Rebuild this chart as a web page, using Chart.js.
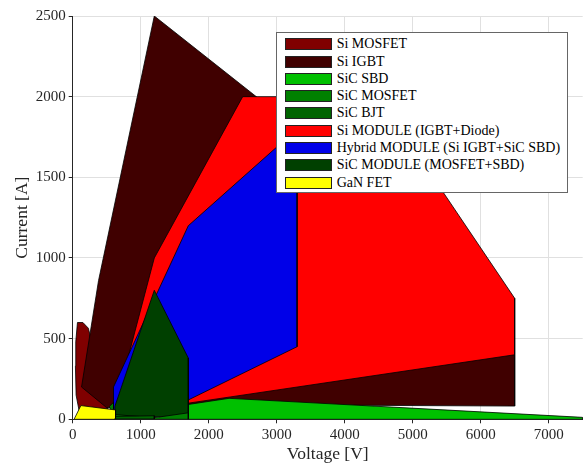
<!DOCTYPE html>
<html>
<head>
<meta charset="utf-8">
<script src="https://cdn.jsdelivr.net/npm/chart.js@4.4.0/dist/chart.umd.min.js"></script>
<style>
  body { margin: 0; background: #fff; }
  #wrap { position: relative; width: 586px; height: 465px; }
  #legend {
    position: absolute; left: 276px; top: 32px; width: 292px; height: 161px;
    box-sizing: border-box; border: 1px solid #666; background: #fff;
    padding-top: 2.6px;
    font-family: 'Liberation Serif', 'Times New Roman', serif; font-size: 14px; color: #000;
  }
  .row { display: flex; align-items: center; height: 17.3px; white-space: nowrap; }
  .sw { width: 45px; height: 10px; border: 1px solid #222; margin-left: 8px; margin-right: 4.7px; }
</style>
</head>
<body>
<div id="wrap">
  <canvas id="soa"></canvas>
  <div id="legend"></div>
</div>
<script>
// device names and fill colours (legend order)
const names = ["Si MOSFET", "Si IGBT", "SiC SBD", "SiC MOSFET", "SiC BJT",
  "Si MODULE (IGBT+Diode)", "Hybrid MODULE (Si IGBT+SiC SBD)", "SiC MODULE (MOSFET+SBD)", "GaN FET"];
const colors = ["#800000", "#400000", "#00c000", "#008000", "#006400",
  "#ff0000", "#0000e8", "#004000", "#ffff00"];

// polygon outlines, voltage [V] / current [A]
const siMosfetV = [70, 150, 230, 520, 100, 50, 40, 45];
const siMosfetI = [600, 600, 565, 65, 40, 150, 330, 480];

const siIgbtV = [1200, 3450, 6500, 6500, 1700, 600, 500, 130, 380];
const siIgbtI = [2500, 1750, 400, 82, 92, 75, 72, 200, 860];

const sicSbdV = [1700, 1700, 2300, 7500, 7500];
const sicSbdI = [0, 92, 130, 12, 0];

const sicMosfetV = [540, 600, 600, 1200, 1700, 1700, 600];
const sicMosfetI = [80, 105, 30, 10, 40, 0, 0];

const sicBjtV = [620, 620, 1200, 1200];
const sicBjtI = [2, 18, 22, 2];

const siModuleV = [2500, 4500, 6500, 6500, 1700, 700, 1200];
const siModuleI = [2000, 2000, 750, 400, 100, 200, 1000];

const hybridV = [1700, 3300, 3300, 1700, 600, 600];
const hybridI = [1200, 1800, 450, 120, 60, 200];

const sicModuleV = [1200, 1700, 1700, 1200, 620, 620];
const sicModuleI = [800, 380, 20, 15, 16, 80];

const ganV = [20, 120, 630, 630, 600];
const ganI = [0, 85, 58, 4, 0];

const xTicks = [0, 1000, 2000, 3000, 4000, 5000, 6000, 7000];
const yTicks = [0, 500, 1000, 1500, 2000, 2500];

const shapes = [
  [siMosfetV, siMosfetI], [siIgbtV, siIgbtI], [sicSbdV, sicSbdI],
  [sicMosfetV, sicMosfetI], [sicBjtV, sicBjtI], [siModuleV, siModuleI],
  [hybridV, hybridI], [sicModuleV, sicModuleI], [ganV, ganI]
];
// stacking: first entry is painted first (bottom)
const paintOrder = ["Si MOSFET", "Si IGBT", "SiC SBD", "Si MODULE (IGBT+Diode)",
  "Hybrid MODULE (Si IGBT+SiC SBD)", "SiC MODULE (MOSFET+SBD)", "SiC MOSFET", "SiC BJT", "GaN FET"];

const datasets = names.map((name, k) => {
  const [vs, is] = shapes[k];
  const pts = vs.map((v, i) => ({x: v, y: is[i]}));
  pts.push(pts[0]);
  return {
    label: name,
    data: pts,
    showLine: true,
    fill: 'shape',
    backgroundColor: colors[k],
    borderColor: '#000',
    borderWidth: 0.8,
    pointRadius: 0,
    tension: 0,
    order: paintOrder.length - paintOrder.indexOf(name)
  };
});

const serif = "'Liberation Serif', 'Times New Roman', serif";
Chart.defaults.font.family = serif;

new Chart(document.getElementById("soa"), {
  type: 'scatter',
  data: { datasets: datasets },
  options: {
    responsive: true,
    maintainAspectRatio: false,
    animation: false,
    events: [],
    layout: { padding: { left: 0, right: 3.3, top: 16, bottom: 0 } },
    plugins: { legend: { display: false }, tooltip: { enabled: false } },
    scales: {
      x: {
        type: 'linear', min: 0, max: 7500,
        afterBuildTicks: s => { s.ticks = xTicks.map(v => ({value: v})); },
        afterFit: s => { s.height = 45.7; },
        grid: { color: '#e0e0e0', tickColor: '#262626', tickLength: 4 },
        border: { color: '#262626', width: 1 },
        ticks: { font: { family: serif, size: 15 }, color: '#262626', maxRotation: 0, callback: v => String(v) },
        title: { display: true, text: 'Voltage [V]', font: { family: serif, size: 17.5 }, color: '#262626', padding: { top: 0, bottom: 0 } }
      },
      y: {
        type: 'linear', min: 0, max: 2500,
        afterBuildTicks: s => { s.ticks = yTicks.map(v => ({value: v})); },
        afterFit: s => { s.width = 72.7; },
        grid: { color: '#e0e0e0', tickColor: '#262626', tickLength: 4 },
        border: { color: '#262626', width: 1 },
        ticks: { font: { family: serif, size: 15 }, color: '#262626', callback: v => String(v) },
        title: { display: true, text: 'Current [A]', font: { family: serif, size: 17.5 }, color: '#262626', padding: { top: 12, bottom: 0 } }
      }
    }
  }
});

// legend box inside the axes
const legend = document.getElementById("legend");
names.forEach((name, k) => {
  const row = document.createElement("div");
  row.className = "row";
  row.innerHTML = `<span class="sw" style="background:${colors[k]}"></span><span>${name}</span>`;
  legend.appendChild(row);
});
</script>
</body>
</html>
